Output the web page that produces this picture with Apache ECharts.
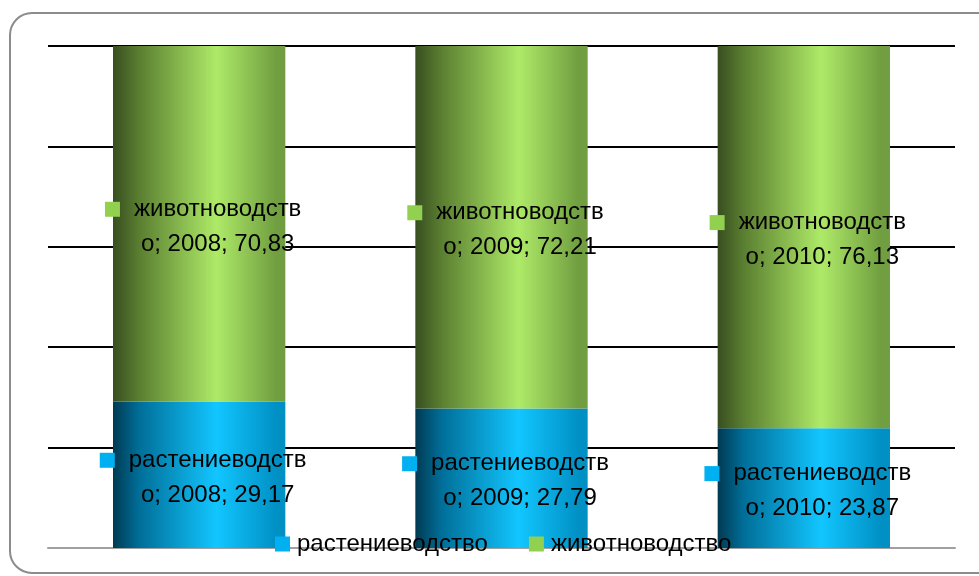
<!DOCTYPE html>
<html>
<head>
<meta charset="utf-8">
<script src="https://cdn.jsdelivr.net/npm/echarts@6/dist/echarts.min.js"></script>
<style>
  html, body { margin: 0; padding: 0; background: #fff; }
  #main { width: 979px; height: 576px; }
</style>
</head>
<body>
<div id="main"></div>
<script>
// данные
var years = ['2008', '2009', '2010'];
var plantValues = [29.17, 27.79, 23.87];
var animalValues = [70.83, 72.21, 76.13];
var seriesNames = ['растениеводство', 'животноводство'];

var chart = echarts.init(document.getElementById('main'));

function cyl(dark, mid, light, edge) {
  return new echarts.graphic.LinearGradient(0, 0, 1, 0, [
    { offset: 0, color: dark },
    { offset: 0.15, color: mid },
    { offset: 0.6, color: light },
    { offset: 0.95, color: edge },
    { offset: 1, color: edge }
  ]);
}

function makeLabel(name, key) {
  return {
    show: true,
    position: 'inside',
    offset: [4, 3],
    formatter: function (p) {
      var v = p.value.toFixed(2).replace('.', ',');
      return '{sq|}{sp|}{t|' + name.slice(0, -1) + '}\n{pad|}{t|' + name.slice(-1) + '; ' + p.name + '; ' + v + '}';
    },
    rich: {
      sq: { width: 15, height: 15, backgroundColor: key },
      sp: { width: 14 },
      pad: { width: 29 },
      t: { fontFamily: 'Liberation Sans', fontSize: 24, lineHeight: 35, color: '#000' }
    }
  };
}

var option = {
  animation: false,
  backgroundColor: '#fff',
  graphic: [{
    type: 'rect',
    z: -10,
    shape: { x: 10, y: 13, width: 990, height: 560, r: 22 },
    style: { fill: 'none', stroke: '#8c8c8c', lineWidth: 2 }
  }],
  legend: {
    left: 275,
    top: 532,
    padding: 0,
    itemWidth: 15,
    itemHeight: 15,
    itemGap: 41,
    icon: 'rect',
    textStyle: { fontFamily: 'Liberation Sans', fontSize: 24, color: '#000', padding: [0, 0, 0, 2] },
    data: [
      { name: seriesNames[0], itemStyle: { color: '#00b0f0' } },
      { name: seriesNames[1], itemStyle: { color: '#92d050' } }
    ]
  },
  grid: { left: 48, right: 24, top: 46, bottom: 28 },
  xAxis: {
    type: 'category',
    data: years,
    axisLine: { lineStyle: { color: '#a0a0a0', width: 2 } },
    axisTick: { show: false },
    axisLabel: { show: false }
  },
  yAxis: {
    type: 'value',
    min: 0,
    max: 100,
    interval: 20,
    axisLabel: { show: false },
    axisLine: { show: false },
    axisTick: { show: false },
    splitLine: { lineStyle: { color: '#000', width: 2 } }
  },
  series: [
    {
      name: seriesNames[0],
      type: 'bar',
      stack: 'all',
      barWidth: '57%',
      itemStyle: { color: cyl('#003a52', '#006e98', '#12c6ff', '#0090c4') },
      label: makeLabel(seriesNames[0], '#00b0f0'),
      data: plantValues
    },
    {
      name: seriesNames[1],
      type: 'bar',
      stack: 'all',
      barWidth: '57%',
      itemStyle: { color: cyl('#384e20', '#5a7e30', '#aeea68', '#709e40') },
      label: makeLabel(seriesNames[1], '#92d050'),
      data: animalValues
    }
  ]
};

chart.setOption(option);
</script>
</body>
</html>
